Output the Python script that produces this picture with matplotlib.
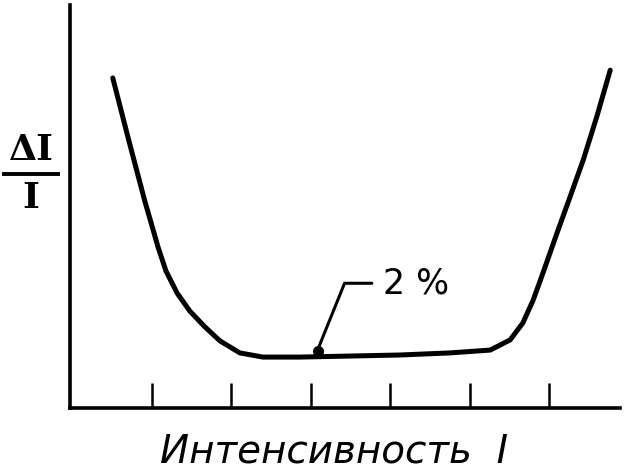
import numpy as np
import matplotlib.pyplot as plt

# curve: intensity (tick units) vs relative threshold dI/I (%)
intensity = [0.51, 0.72, 0.91, 0.99, 1.08, 1.18, 1.32, 1.48, 1.67, 1.86, 2.11,
             2.40, 2.86, 3.49, 4.12, 4.75, 5.26, 5.51, 5.67, 5.80, 5.93, 6.10,
             6.25, 6.43, 6.60, 6.77]
weber = [12.7, 10.2, 8.0, 7.15, 6.19, 5.27, 4.42, 3.73, 3.12, 2.58, 2.12,
         1.96, 1.96, 2.0, 2.04, 2.12, 2.23, 2.62, 3.27, 4.15, 5.25, 6.73,
         8.0, 9.54, 11.2, 13.0]
ticks = [1, 2, 3, 4, 5, 6]
min_x, min_y = 3.09, 2.0
min_label = "2 %"

fig = plt.figure(figsize=(6.35, 4.69), dpi=100)
ax = fig.add_axes([0.110, 0.130, 0.866, 0.859])

ax.plot(intensity, weber, color='black', lw=3.6, solid_capstyle='round',
        solid_joinstyle='round')
ax.plot([min_x], [min_y + 0.2], 'o', color='black', ms=7)

ax.annotate(min_label, xy=(min_x, min_y + 0.25), xytext=(3.91, 4.8),
            fontsize=25, va='center', ha='left',
            arrowprops=dict(arrowstyle='-', color='black', lw=2.2,
                            shrinkA=6, shrinkB=0,
                            connectionstyle='angle,angleA=0,angleB=68,rad=0'))

ax.set_xlim(-0.03, 6.89)
ax.set_ylim(0, 15.5)
ax.set_xticks(ticks)
ax.set_xticklabels([])
ax.set_yticks([])
ax.tick_params(axis='x', direction='in', length=18, width=1.8, color='black')
for s in ['top', 'right']:
    ax.spines[s].set_visible(False)
for s in ['left', 'bottom']:
    ax.spines[s].set_linewidth(2.6)

# y label as a fraction dI / I
fig.text(31 / 635, 1 - 150 / 469, 'ΔI', fontsize=26, fontweight='bold',
         family='DejaVu Serif', ha='center', va='center')
fig.text(31 / 635, 1 - 198 / 469, 'I', fontsize=26, fontweight='bold',
         family='DejaVu Serif', ha='center', va='center')
fig.add_artist(plt.Line2D([4 / 635, 58 / 635], [1 - 174 / 469] * 2,
                          color='black', lw=2.8))

fig.text(334 / 635, 1 - 451 / 469, 'Интенсивность  I', fontsize=28,
         style='italic', ha='center', va='center')

fig.savefig('out.png', dpi=100)
